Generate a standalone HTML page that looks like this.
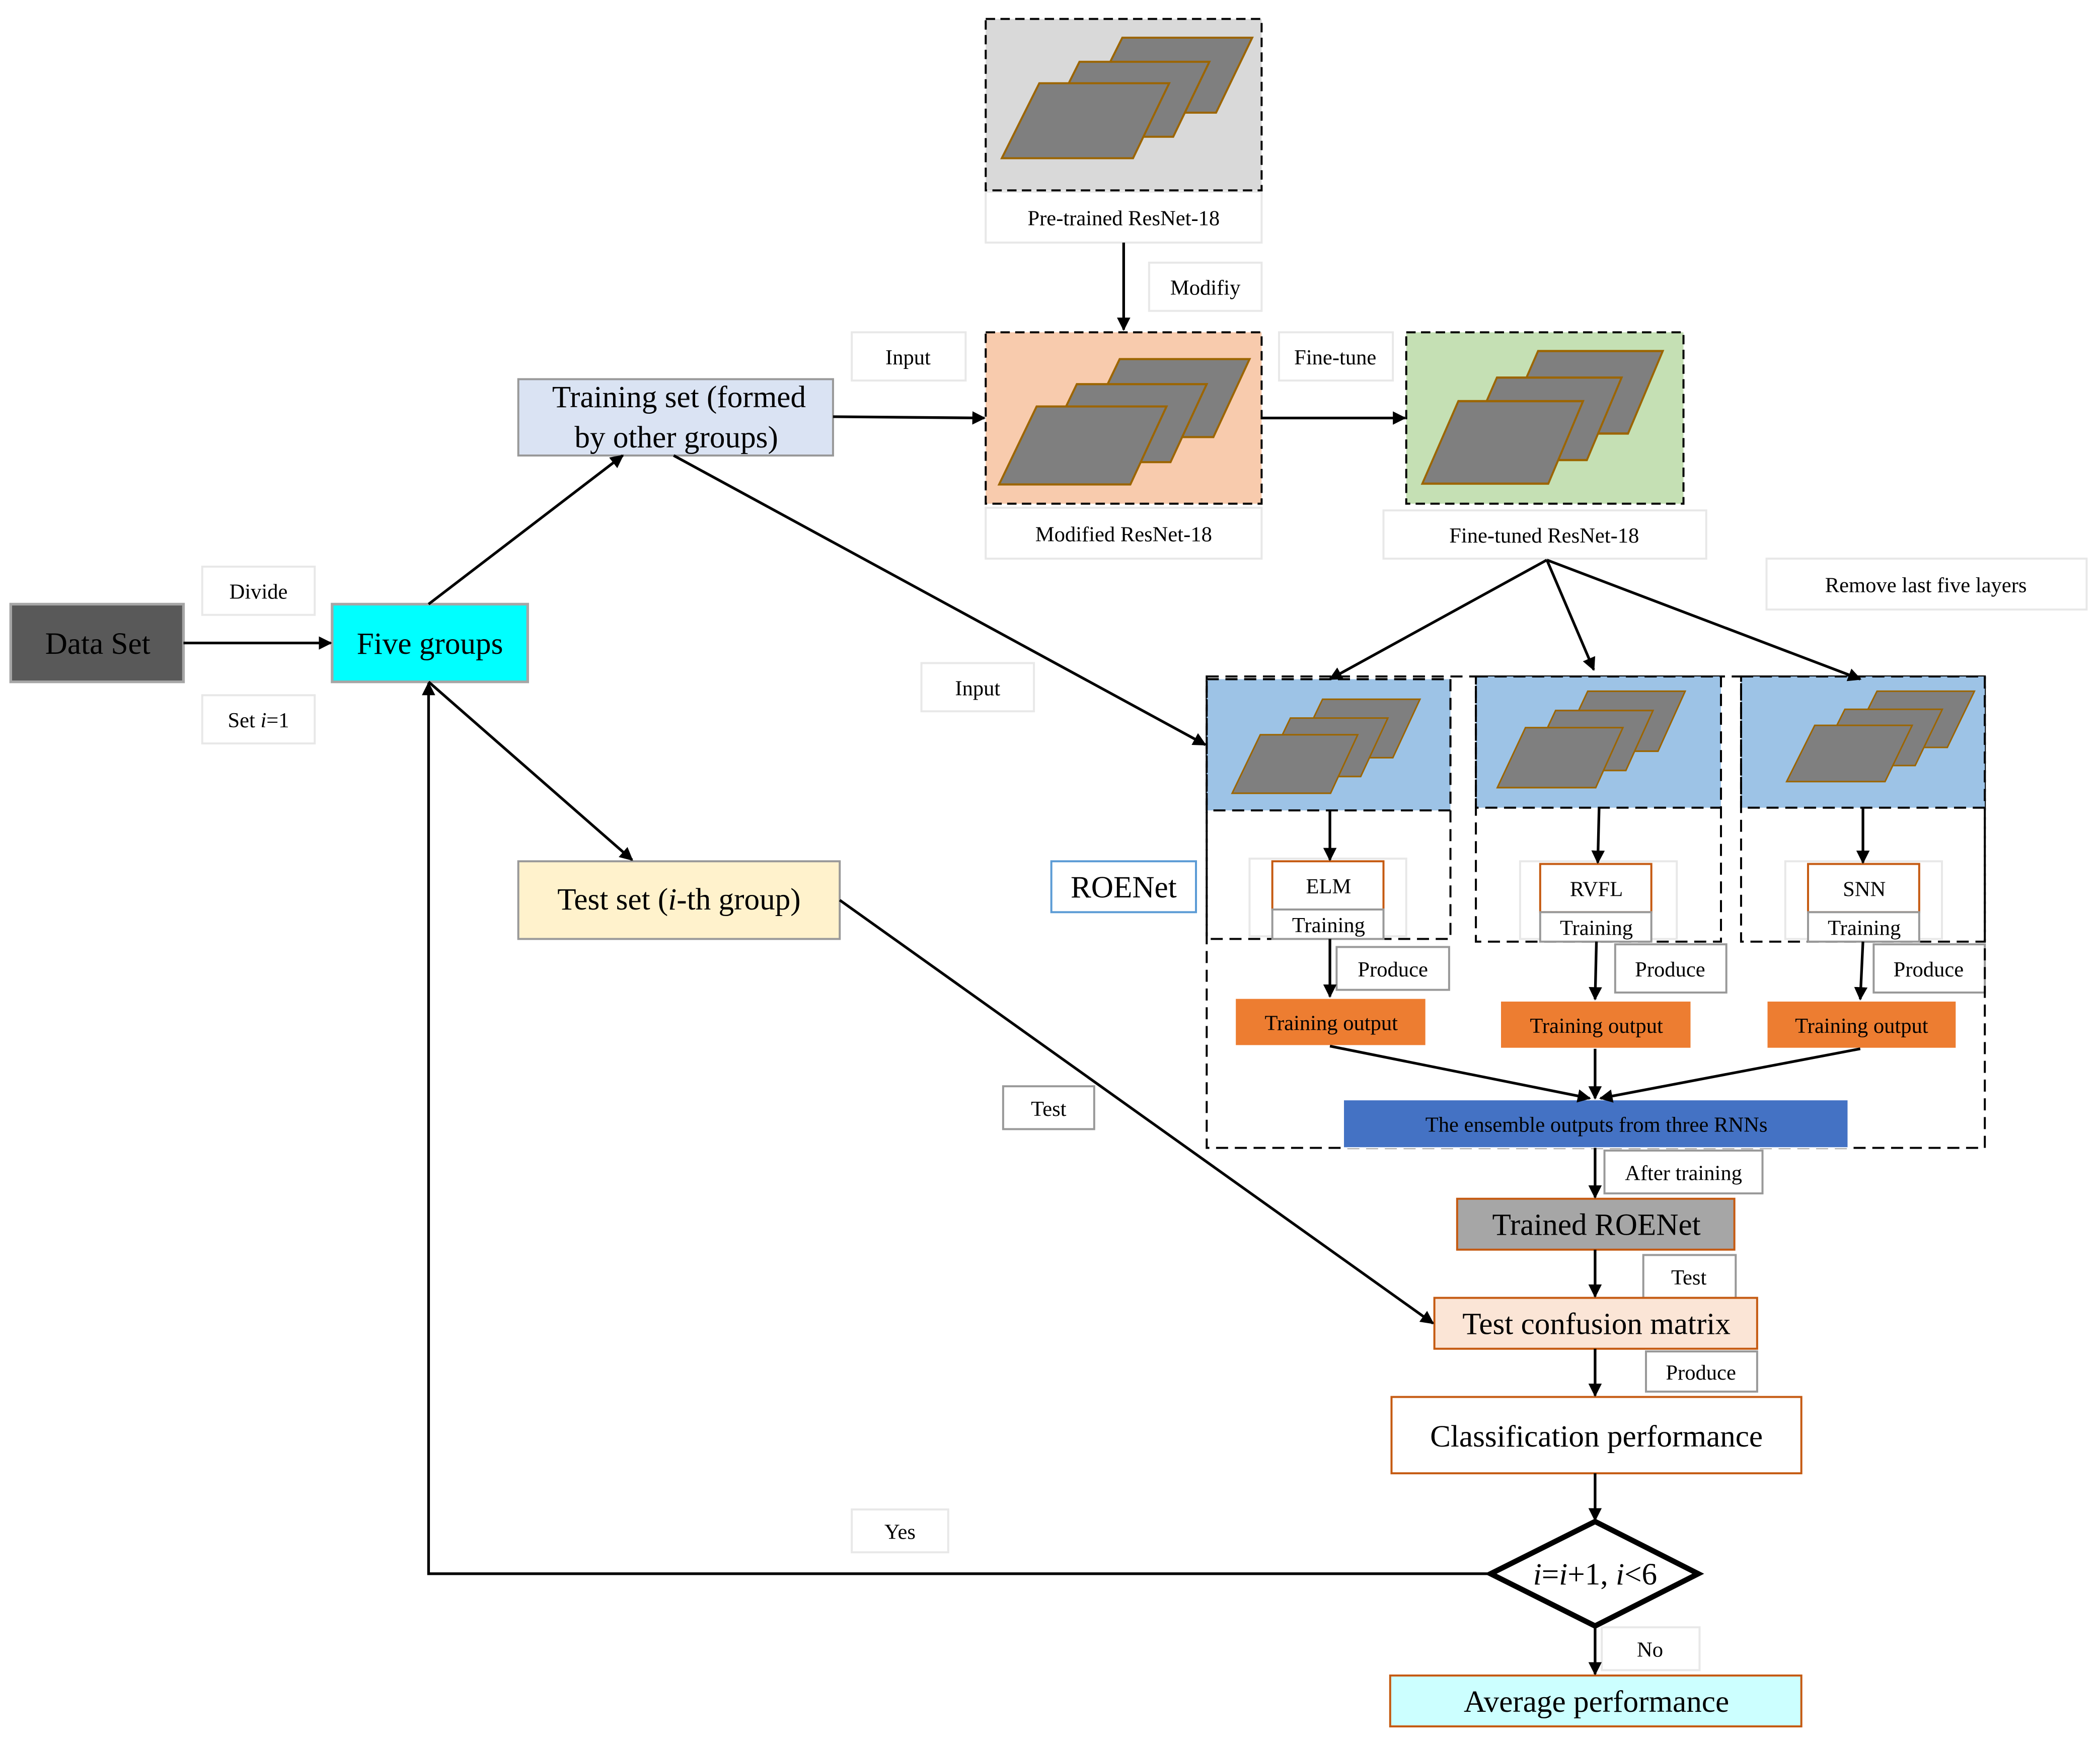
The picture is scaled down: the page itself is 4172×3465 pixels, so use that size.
<!DOCTYPE html>
<html><head><meta charset="utf-8"><style>
html,body{margin:0;padding:0;background:#fff;}
svg{display:block;}
text{font-family:"Liberation Serif",serif;fill:#000;}
.s{font-size:16px;}
.b{font-size:23px;}
</style></head><body>
<svg width="4172" height="3465" viewBox="0 0 1568 1302" xmlns="http://www.w3.org/2000/svg">
<defs>
<marker id="a" markerWidth="10" markerHeight="10" refX="9" refY="5" orient="auto" markerUnits="userSpaceOnUse"><path d="M0,0 L10,5 L0,10 z" fill="#000"/></marker>
<g id="st">
<polygon points="90,0 187,0 160,56 62,56" fill="#7f7f7f" stroke="#9c6500" stroke-width="1.5"/>
<polygon points="58,18 155,18 128,74 30,74" fill="#7f7f7f" stroke="#9c6500" stroke-width="1.5"/>
<polygon points="28,34 125,34 98,90 0,90" fill="#7f7f7f" stroke="#9c6500" stroke-width="1.5"/>
</g>
</defs>
<g fill="#fff" stroke="#e8e8e8" stroke-width="1.5">
<rect x="151" y="423" width="84" height="36"/><rect x="151" y="519" width="84" height="36"/>
<rect x="736" y="143" width="206" height="38"/><rect x="858" y="196" width="84" height="36"/>
<rect x="636" y="248" width="85" height="36"/><rect x="736" y="379" width="206" height="38"/>
<rect x="955" y="248" width="85" height="36"/><rect x="1033" y="381" width="241" height="36"/>
<rect x="1319" y="417" width="239" height="38"/><rect x="688" y="495" width="84" height="36"/>
<rect x="636" y="1127" width="72" height="32"/><rect x="1196" y="1215" width="73" height="32"/>
<rect x="933" y="641" width="117" height="58"/><rect x="1135" y="643" width="117" height="58"/><rect x="1333" y="643" width="117" height="58"/>
</g>
<g fill="#fff" stroke="#999" stroke-width="1.5">
<rect x="998" y="707" width="84" height="32"/><rect x="1206" y="705" width="83" height="36"/><rect x="1399" y="705" width="83" height="36"/>
<rect x="749" y="811" width="68" height="32"/><rect x="1198" y="859" width="118" height="32"/>
<rect x="1227" y="937" width="69" height="32"/><rect x="1229" y="1009" width="83" height="30"/>
</g>
<g class="s" text-anchor="middle">
<text x="193" y="447">Divide</text><text x="193" y="543">Set <tspan font-style="italic">i</tspan>=1</text>
<text x="839" y="168">Pre-trained ResNet-18</text><text x="900" y="220">Modifiy</text>
<text x="678" y="272">Input</text><text x="839" y="404">Modified ResNet-18</text>
<text x="997" y="272">Fine-tune</text><text x="1153" y="405">Fine-tuned ResNet-18</text>
<text x="1438" y="442">Remove last five layers</text><text x="730" y="519">Input</text>
<text x="672" y="1149">Yes</text><text x="1232" y="1237">No</text>
<text x="1040" y="729">Produce</text><text x="1247" y="729">Produce</text><text x="1440" y="729">Produce</text>
<text x="783" y="833">Test</text><text x="1257" y="881">After training</text>
<text x="1261" y="959">Test</text><text x="1270" y="1030">Produce</text>
</g>
<!-- big boxes -->
<rect x="8" y="451" width="129" height="58" fill="#595959" stroke="#a6a6a6" stroke-width="2"/>
<text class="b" x="73" y="488" text-anchor="middle">Data Set</text>
<rect x="248" y="451" width="146" height="58" fill="#00ffff" stroke="#a6a6a6" stroke-width="2"/>
<text class="b" x="321" y="488" text-anchor="middle">Five groups</text>
<rect x="387" y="283" width="235" height="57" fill="#dae3f3" stroke="#999" stroke-width="1.5"/>
<text class="b" x="507" y="304" text-anchor="middle">Training set (formed</text>
<text class="b" x="505" y="334" text-anchor="middle">by other groups)</text>
<rect x="387" y="643" width="240" height="58" fill="#fff2cc" stroke="#999" stroke-width="1.5"/>
<text class="b" x="507" y="679" text-anchor="middle">Test set (<tspan font-style="italic">i</tspan>-th group)</text>
<rect x="785" y="643" width="108" height="38" fill="#fff" stroke="#5b9bd5" stroke-width="1.5"/>
<text class="b" x="839" y="670" text-anchor="middle">ROENet</text>
<!-- resnets -->
<rect x="736" y="14" width="206" height="128" fill="#d9d9d9" stroke="#000" stroke-width="1.5" stroke-dasharray="7,4"/>
<use href="#st" transform="translate(748,28)"/>
<rect x="736" y="248" width="206" height="128" fill="#f8cbad" stroke="#000" stroke-width="1.5" stroke-dasharray="7,4"/>
<use href="#st" transform="translate(746,268) scale(1,1.04)"/>
<rect x="1050" y="248" width="207" height="128" fill="#c5e0b4" stroke="#000" stroke-width="1.5" stroke-dasharray="7,4"/>
<use href="#st" transform="translate(1062,262) scale(0.96,1.1)"/>
<!-- ROENet -->
<rect x="901" y="505" width="581" height="352" fill="none" stroke="#000" stroke-width="1.5" stroke-dasharray="9,5"/>
<g stroke="#000" stroke-width="1.5" stroke-dasharray="9,5">
<rect x="901" y="507" width="182" height="98" fill="#9dc3e6"/><rect x="901" y="507" width="182" height="194" fill="none"/>
<rect x="1102" y="505" width="183" height="98" fill="#9dc3e6"/><rect x="1102" y="505" width="183" height="198" fill="none"/>
<rect x="1300" y="505" width="182" height="98" fill="#9dc3e6"/><rect x="1300" y="505" width="182" height="198" fill="none"/>
</g>
<use href="#st" transform="translate(920,522) scale(0.75,0.78)"/>
<use href="#st" transform="translate(1118,516) scale(0.75,0.8)"/>
<use href="#st" transform="translate(1334,516) scale(0.75,0.75)"/>
<g stroke="#c55a11" stroke-width="1.5" fill="#fff">
<rect x="950" y="643" width="83" height="36"/><rect x="1150" y="645" width="83" height="36"/><rect x="1350" y="645" width="83" height="36"/>
</g>
<g stroke="#999" stroke-width="1.5" fill="#fff">
<rect x="950" y="679" width="83" height="22"/><rect x="1150" y="681" width="83" height="22"/><rect x="1350" y="681" width="83" height="22"/>
</g>
<g class="s" text-anchor="middle">
<text x="992" y="667">ELM</text><text x="1192" y="669">RVFL</text><text x="1392" y="669">SNN</text>
<text x="992" y="696">Training</text><text x="1192" y="698">Training</text><text x="1392" y="698">Training</text>
</g>
<g fill="#ed7d31" stroke="#fff" stroke-width="1.5">
<rect x="922" y="745" width="143" height="36"/><rect x="1120" y="747" width="143" height="36"/><rect x="1319" y="747" width="142" height="36"/>
</g>
<g class="s" text-anchor="middle">
<text x="994" y="769">Training output</text><text x="1192" y="771">Training output</text><text x="1390" y="771">Training output</text>
</g>
<rect x="1003" y="821" width="377" height="36" fill="#4472c4" stroke="#fff" stroke-width="1"/>
<text class="s" x="1192" y="845" text-anchor="middle">The ensemble outputs from three RNNs</text>
<rect x="1088" y="895" width="207" height="38" fill="#a6a6a6" stroke="#c55a11" stroke-width="1.5"/>
<text class="b" x="1192" y="922" text-anchor="middle">Trained ROENet</text>
<rect x="1071" y="969" width="241" height="38" fill="#fbe5d6" stroke="#c55a11" stroke-width="1.5"/>
<text class="b" x="1192" y="996" text-anchor="middle">Test confusion matrix</text>
<rect x="1039" y="1043" width="306" height="57" fill="#fff" stroke="#c55a11" stroke-width="1.5"/>
<text class="b" x="1192" y="1080" text-anchor="middle">Classification performance</text>
<polygon points="1191,1136 1268,1175 1191,1214 1113,1175" fill="#fff" stroke="#000" stroke-width="4"/>
<text class="b" x="1191" y="1183" text-anchor="middle"><tspan font-style="italic">i</tspan>=<tspan font-style="italic">i</tspan>+1, <tspan font-style="italic">i</tspan>&lt;6</text>
<rect x="1038" y="1251" width="307" height="38" fill="#ccffff" stroke="#c55a11" stroke-width="1.5"/>
<text class="b" x="1192" y="1278" text-anchor="middle">Average performance</text>
<!-- connectors -->
<g stroke="#000" stroke-width="2" fill="none" marker-end="url(#a)">
<line x1="137" y1="480" x2="247" y2="480"/>
<line x1="320" y1="451" x2="465" y2="340"/>
<line x1="320" y1="509" x2="472" y2="642"/>
<polyline points="1113,1175 320,1175 320,510"/>
<line x1="839" y1="181" x2="839" y2="246"/>
<line x1="622" y1="311" x2="735" y2="312"/>
<line x1="942" y1="312" x2="1049" y2="312"/>
<line x1="503" y1="340" x2="900" y2="556"/>
<line x1="1155" y1="418" x2="993" y2="507"/>
<line x1="1155" y1="418" x2="1190" y2="500"/>
<line x1="1155" y1="418" x2="1389" y2="507"/>
<line x1="993" y1="605" x2="993" y2="642"/>
<line x1="1194" y1="603" x2="1193" y2="644"/>
<line x1="1391" y1="603" x2="1391" y2="644"/>
<line x1="993" y1="701" x2="993" y2="744"/>
<line x1="1192" y1="703" x2="1191" y2="746"/>
<line x1="1391" y1="703" x2="1389" y2="746"/>
<line x1="993" y1="781" x2="1187" y2="820"/>
<line x1="1191" y1="783" x2="1191" y2="820"/>
<line x1="1389" y1="783" x2="1195" y2="820"/>
<line x1="1191" y1="857" x2="1191" y2="894"/>
<line x1="1191" y1="933" x2="1191" y2="968"/>
<line x1="1191" y1="1007" x2="1191" y2="1042"/>
<line x1="1191" y1="1100" x2="1191" y2="1135"/>
<line x1="1191" y1="1214" x2="1191" y2="1250"/>
<line x1="627" y1="672" x2="1070" y2="988"/>
</g>
</svg>
</body></html>
